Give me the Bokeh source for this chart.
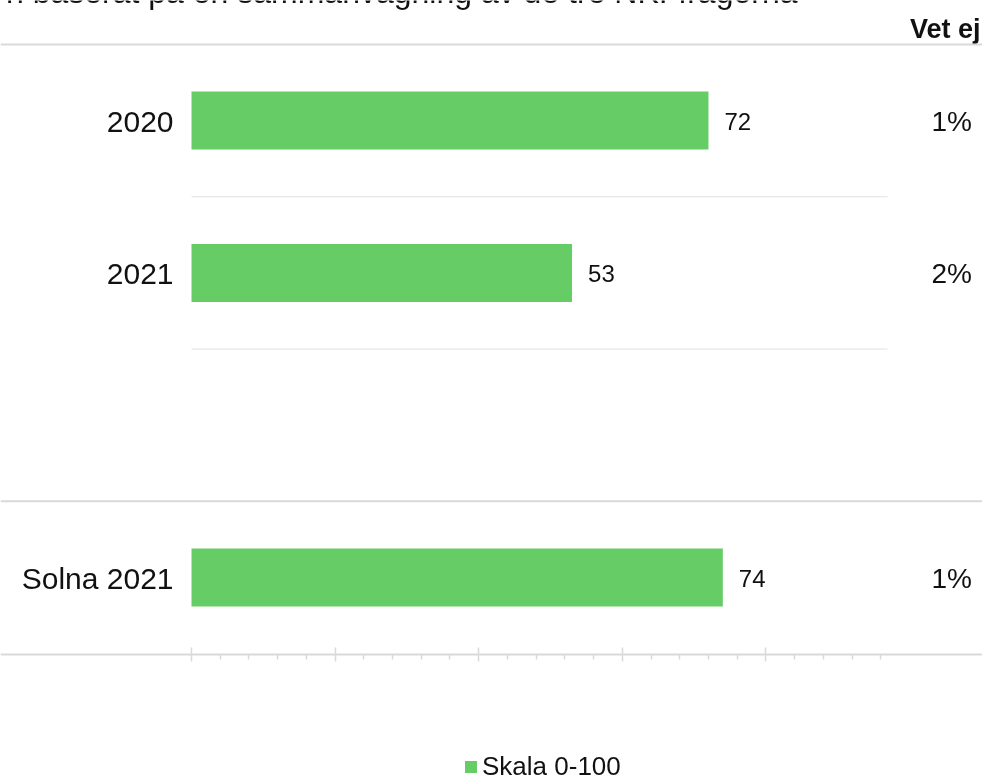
from bokeh.plotting import figure
from bokeh.models import ColumnDataSource, Range1d, FixedTicker, Span, Legend, LegendItem, LinearAxis
from bokeh.core.properties import value
from bokeh.embed import file_html
from bokeh.resources import INLINE

# ---------------- data ----------------
categories = ["2020", "2021", "Solna 2021"]
scores = [72, 53, 74]
vet_ej = ["1%", "2%", "1%"]
row_pos = [3, 2, 0]          # slot 1 is an empty spacer row
series_name = "Skala 0-100"
header = "Vet ej"
title_text = "n baserat på en sammanvägning av de tre NKI-frågorna"
major_ticks = [0, 20, 40, 60, 80]
minor_ticks = [4, 8, 12, 16, 24, 28, 32, 36, 44, 48, 52, 56, 64, 68, 72, 76, 84, 88, 92, 96]
separators = [2.5, 1.5]
group_lines = [3.5, 0.5]
axis_at = -0.505

# ---------------- layout constants ----------------
W, H = 982, 779
K = 7.18          # px per unit
X0 = 191          # px of value 0
R = 152.3         # px per row
Y0 = 577          # px of row 0
FONT_NAME = "Liberation Sans"
FONT = value(FONT_NAME)
GRID = "#d9d9d9"
BAR = "#66CC66"
INK = "#111111"

def xd(px):
    return (px - X0) / K

def yd(px):
    return (Y0 - px) / R

p = figure(width=W, height=H, output_backend="svg", toolbar_location=None,
           x_axis_type=None, y_axis_type=None,
           x_range=Range1d(xd(0), xd(W)), y_range=Range1d(yd(H), yd(0)),
           min_border_left=0, min_border_right=0, min_border_top=0,
           min_border_bottom=0)
p.outline_line_color = None
p.background_fill_color = "white"
p.styles = {"position": "fixed", "top": "0px", "left": "0px"}

src = ColumnDataSource(dict(cat=categories, score=scores, y=row_pos, vet=vet_ej,
                            lab=[str(s) for s in scores]))

# horizontal rules
for loc in group_lines:
    p.add_layout(Span(location=loc, dimension="width", line_color=GRID, line_width=2))
p.segment(x0=0, x1=xd(887), y0=separators, y1=separators, line_color="#e0e0e0", line_width=1)

bars = p.hbar(y="y", left=0, right="score", height=0.381, fill_color=BAR, line_color=None, source=src)

p.text(x="score", y="y", text="lab", source=src, x_offset=16, y_offset=1,
       text_align="left", text_baseline="middle", text_font=FONT,
       text_font_size="24px", text_color=INK)
p.text(x=0, y="y", text="cat", source=src, x_offset=-18, y_offset=1,
       text_align="right", text_baseline="middle", text_font=FONT,
       text_font_size="30px", text_color=INK)
p.text(x=xd(931), y="y", text="vet", source=src, y_offset=1,
       text_align="left", text_baseline="middle", text_font=FONT,
       text_font_size="28px", text_color=INK)

p.text(x=[xd(980)], y=[yd(28)], text=[header], text_align="right",
       text_baseline="middle", text_font=FONT, text_font_style="bold",
       text_font_size="27px", text_color=INK)
p.text(x=[xd(797)], y=[yd(-8.5)], text=[title_text], text_align="right",
       text_baseline="middle", text_font=FONT,
       text_font_size="32px", text_color=INK)

axis = LinearAxis(ticker=FixedTicker(ticks=major_ticks, minor_ticks=minor_ticks),
                  fixed_location=axis_at,
                  axis_line_color=GRID, axis_line_width=2,
                  major_tick_line_color=GRID, major_tick_line_width=1.5,
                  major_tick_in=7, major_tick_out=7,
                  minor_tick_line_color=GRID, minor_tick_line_width=1.5,
                  minor_tick_in=0, minor_tick_out=5,
                  major_label_overrides={t: "" for t in major_ticks})
p.add_layout(axis, "below")

legend = Legend(items=[LegendItem(label=series_name, renderers=[bars])],
                location=(463, -3), padding=0, margin=0, spacing=0,
                glyph_width=15, glyph_height=15, label_standoff=4,
                label_text_font=FONT_NAME, label_text_font_size="26px",
                label_text_color=INK,
                border_line_color=None, background_fill_alpha=0)
p.add_layout(legend, "center")

open("out.html", "w").write(file_html(p, INLINE))
